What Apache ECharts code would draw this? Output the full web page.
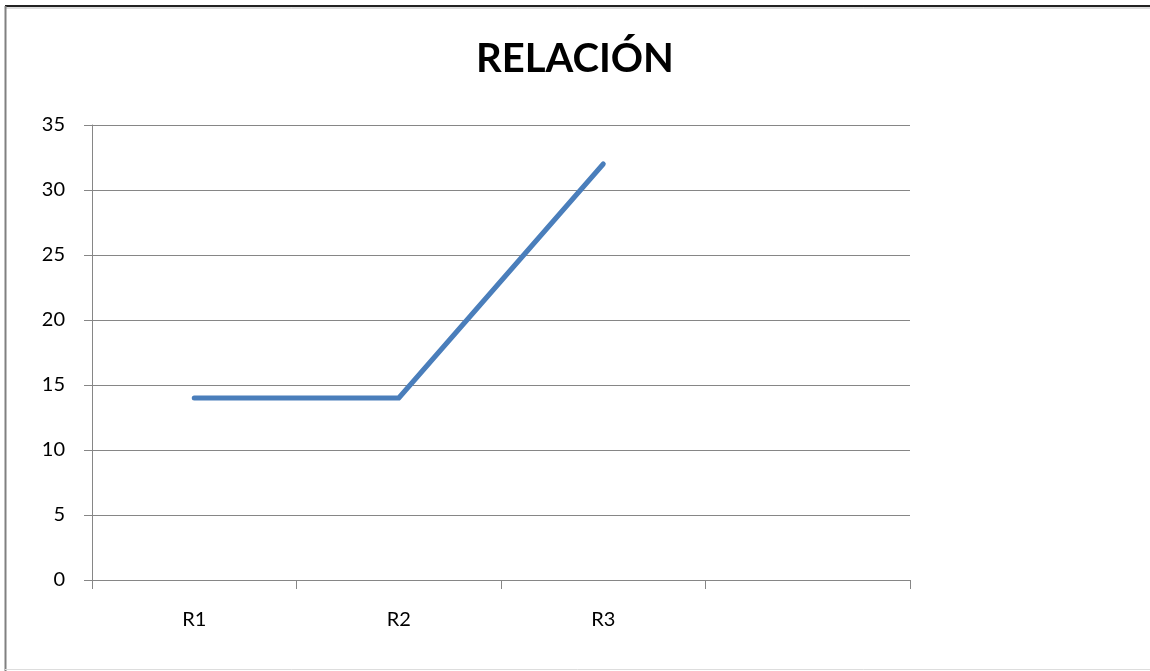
<!DOCTYPE html>
<html>
<head>
<meta charset="utf-8">
<script src="https://cdn.jsdelivr.net/npm/echarts@6/dist/echarts.min.js"></script>
<style>
  html, body { margin: 0; padding: 0; background: #fff; }
  #chart { width: 1150px; height: 671px; }
</style>
</head>
<body>
<div id="chart"></div>
<script>
// Categories (the fourth slot is left blank on the axis)
const categories = ['R1', 'R2', 'R3', ''];
// Series values
const values = [14, 14, 32, null];
// Value axis ticks
const yMin = 0, yMax = 35, yStep = 5;

const chart = echarts.init(document.getElementById('chart'), null, { renderer: 'canvas' });

const axisGray = '#868686';
const labelFont = 'Lato, "Liberation Sans", sans-serif';

chart.setOption({
  backgroundColor: '#ffffff',
  animation: false,
  title: {
    text: 'RELACIÓN',
    left: 'center',
    top: 34,
    textStyle: {
      fontFamily: labelFont,
      fontWeight: 'bold',
      fontSize: 40,
      color: '#000000'
    }
  },
  grid: { left: 92, right: 240, top: 125, bottom: 91 },
  xAxis: {
    type: 'category',
    data: categories,
    boundaryGap: true,
    axisLine: { show: true, lineStyle: { color: axisGray, width: 1 } },
    axisTick: { show: true, length: 9, alignWithLabel: false, lineStyle: { color: axisGray } },
    axisLabel: { margin: 30, fontSize: 20, fontFamily: labelFont, color: '#000' },
    splitLine: { show: false }
  },
  yAxis: {
    type: 'value',
    min: yMin, max: yMax, interval: yStep,
    axisLine: { show: true, lineStyle: { color: axisGray, width: 1 } },
    axisTick: { show: true, length: 8, lineStyle: { color: axisGray } },
    axisLabel: { margin: 27, fontSize: 20, fontFamily: labelFont, color: '#000' },
    splitLine: { show: true, lineStyle: { color: axisGray, width: 1 } }
  },
  series: [{
    type: 'line',
    data: values,
    symbol: 'none',
    lineStyle: { color: '#4a7ebb', width: 5, cap: 'round', join: 'round' },
    itemStyle: { color: '#4a7ebb' }
  }],
  graphic: [
    // outer frame
    { type: 'line', shape: { x1: 5, y1: 6, x2: 1150, y2: 6 }, style: { stroke: '#222', lineWidth: 2 } },
    { type: 'line', shape: { x1: 5, y1: 8, x2: 1150, y2: 8 }, style: { stroke: '#bbb', lineWidth: 1 } },
    { type: 'line', shape: { x1: 5.5, y1: 6, x2: 5.5, y2: 671 }, style: { stroke: '#808080', lineWidth: 2 } },
    { type: 'line', shape: { x1: 5, y1: 669.5, x2: 1150, y2: 669.5 }, style: { stroke: '#dddddd', lineWidth: 1 } }
  ]
});
</script>
</body>
</html>
